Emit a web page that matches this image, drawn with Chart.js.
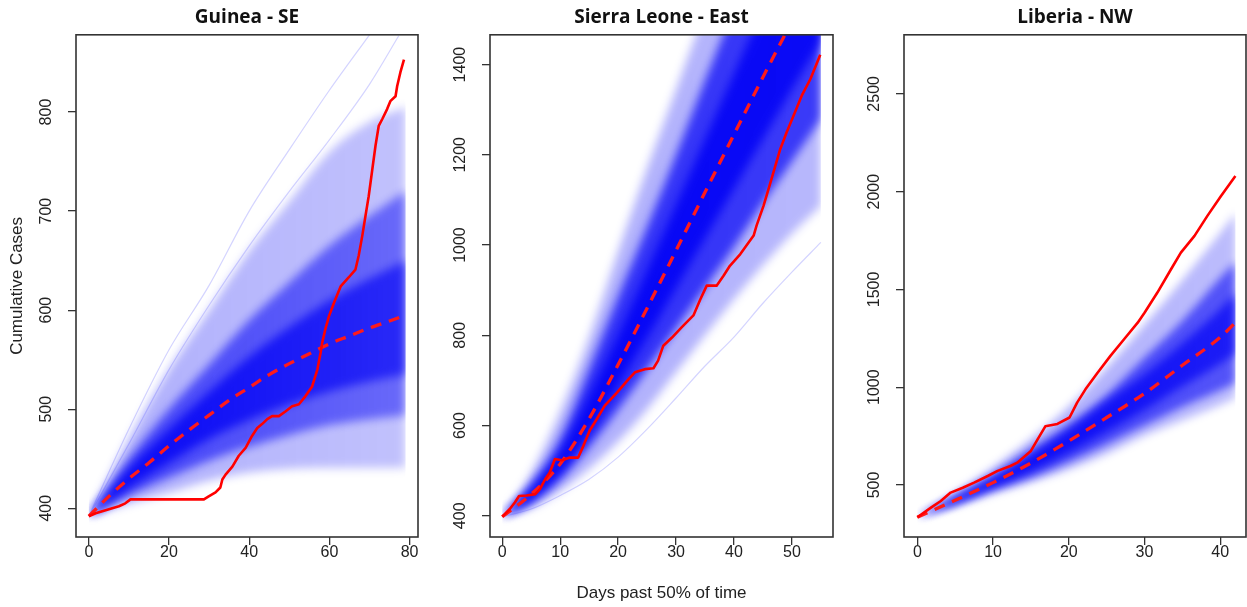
<!DOCTYPE html>
<html><head><meta charset="utf-8">
<script src="https://cdn.jsdelivr.net/npm/chart.js@4.4.1/dist/chart.umd.min.js"></script>
<style>
html,body{margin:0;padding:0;background:#fff;overflow:hidden;width:1247px;height:607px;}
canvas{position:absolute;top:0;}
</style></head><body>
<canvas id="c1" width="420" height="607" style="left:0px;width:420px;height:607px"></canvas>
<canvas id="c2" width="420" height="607" style="left:420px;width:420px;height:607px"></canvas>
<canvas id="c3" width="407" height="607" style="left:840px;width:407px;height:607px"></canvas>
<script>
// ---------------- Guinea - SE ----------------
const guineaXTicks = [0, 20, 40, 60, 80];
const guineaYTicks = [400, 500, 600, 700, 800];
const guineaBandDays = [0, 10, 20, 30, 40, 50, 60, 70, 79];
const guineaMin = [392, 405, 416, 428, 436, 440, 441, 441, 441];
const guineaQ10 = [392, 413, 431, 448, 462, 474, 484, 490, 494];
const guineaQ25 = [392, 421, 446, 470, 489, 505, 518, 528, 535];
const guineaQ75 = [392, 440, 480, 518, 553, 583, 610, 632, 650];
const guineaQ90 = [392, 450, 500, 545, 590, 628, 665, 695, 720];
const guineaMax = [392, 470, 540, 600, 660, 710, 760, 790, 805];
const guineaMedianDays = [0, 5, 10, 15, 20, 25, 30, 35, 40, 45, 50, 55, 60, 65, 70, 75, 79];
const guineaMedian = [392, 412, 430, 446, 463, 479, 494, 509, 522, 535, 546, 556, 566, 574, 582, 589, 595];
const guineaOutADays = [0, 10, 20, 30, 40, 50, 60, 70];
const guineaOutA = [392, 480, 560, 625, 700, 762, 822, 878];
const guineaOutBDays = [0, 10, 20, 30, 40, 50, 60, 70, 77.3];
const guineaOutB = [392, 465, 540, 605, 665, 720, 772, 828, 877];
const guineaObsDays = [0, 1.7, 5, 7.5, 9.1, 10.4, 28.7, 29.9, 31.6, 32.8, 33.3, 34.1, 35.8, 37.4, 39.1, 40.7, 42, 43.2, 44.5, 45.7, 47.4, 49.1, 50.7, 52.4, 54, 55.7, 57, 57.8, 58.2, 59, 59.9, 61.1, 62.8, 64.8, 66.5, 67.3, 68.2, 69, 69.8, 70.7, 71.5, 72.3, 73.2, 74.4, 75.2, 76.5, 76.9, 77.7, 78.6];
const guineaObsCases = [392, 395, 399, 402, 405, 409, 409, 412, 416, 421, 429, 434, 442, 453, 461, 473, 481, 485, 490, 493, 493, 498, 503, 505, 513, 523, 540, 557, 567, 581, 594, 607, 624, 633, 641, 655, 675, 695, 715, 742, 766, 786, 793, 803, 811, 816, 826, 840, 853];

// ---------------- Sierra Leone - East ----------------
const slXTicks = [0, 10, 20, 30, 40, 50];
const slYTicks = [400, 600, 800, 1000, 1200, 1400];
const slBandDays = [0, 5, 10, 15, 20, 25, 30, 35, 40, 45, 50, 55];
const slMin = [398, 418, 455, 505, 565, 636, 718, 800, 880, 955, 1025, 1087];
const slQ10 = [398, 428, 480, 553, 636, 725, 815, 905, 995, 1093, 1185, 1280];
const slQ25 = [398, 438, 498, 585, 690, 795, 905, 1015, 1125, 1235, 1345, 1450];
const slQ75 = [398, 458, 540, 665, 800, 945, 1090, 1235, 1380, 1525, 1670, 1810];
const slQ90 = [398, 470, 570, 725, 885, 1040, 1200, 1365, 1525, 1690, 1850, 2010];
const slMax = [398, 495, 630, 795, 985, 1170, 1345, 1520, 1690, 1860, 2030, 2200];
const slMedianDays = [0, 5, 10, 15, 20, 25, 30, 35, 40, 45, 50, 55];
const slMedian = [398, 448, 515, 615, 735, 860, 988, 1117, 1245, 1372, 1495, 1612];
const slOutDays = [0, 5, 10, 15, 20, 25, 30, 35, 40, 45, 50, 55];
const slOut = [398, 415, 445, 481, 530, 592, 661, 732, 796, 871, 940, 1006];
const slObsDays = [0, 1.3, 2.2, 2.9, 4.2, 5.7, 6.5, 7.4, 8.2, 9.1, 10.3, 11.7, 13.1, 14, 15.1, 16.3, 17.7, 19.8, 21.8, 22.9, 24.6, 26.1, 26.9, 27.8, 29.3, 31, 33, 34.2, 35.3, 37, 38.2, 39.3, 41.1, 43.4, 43.9, 45.1, 46.5, 48, 49.1, 50.3, 51.7, 53.2, 54.9];
const slObsCases = [398, 415, 430, 444, 445, 448, 459, 481, 496, 526, 523, 529, 529, 555, 589, 614, 644, 673, 703, 718, 725, 727, 744, 777, 795, 818, 844, 880, 910, 910, 932, 954, 980, 1021, 1043, 1087, 1147, 1213, 1250, 1287, 1331, 1368, 1422];

// ---------------- Liberia - NW ----------------
const lbXTicks = [0, 10, 20, 30, 40];
const lbYTicks = [500, 1000, 1500, 2000, 2500];
const lbBandDays = [0, 5, 10, 15, 20, 25, 30, 35, 40, 42];
const lbMin = [335, 392, 455, 515, 580, 660, 753, 831, 909, 945];
const lbQ10 = [335, 400, 475, 540, 620, 710, 805, 900, 985, 1020];
const lbQ25 = [335, 410, 492, 575, 670, 775, 885, 1005, 1120, 1175];
const lbQ75 = [335, 434, 530, 650, 780, 925, 1065, 1225, 1400, 1480];
const lbQ90 = [335, 440, 550, 680, 810, 960, 1150, 1340, 1560, 1640];
const lbMax = [335, 460, 590, 735, 900, 1100, 1320, 1550, 1790, 1890];
const lbMedianDays = [0, 5, 10, 15, 20, 25, 30, 35, 40, 42];
const lbMedian = [335, 422, 512, 612, 725, 845, 968, 1112, 1255, 1330];
const lbObsDays = [0, 1.8, 3.1, 4.4, 6, 7.5, 9.3, 10.6, 12.3, 13.2, 15, 15.9, 16.9, 18.5, 20.1, 21.1, 22.2, 23.8, 25.5, 27.3, 29.1, 30, 31.7, 33.5, 34.8, 36.6, 38.3, 40.1, 42];
const lbObsCases = [335, 384, 418, 461, 486, 512, 546, 572, 597, 614, 674, 734, 800, 812, 845, 921, 989, 1074, 1160, 1245, 1330, 1381, 1484, 1603, 1688, 1774, 1876, 1978, 2080];

const FAMILY = "'Liberation Sans', Arial, sans-serif";
Chart.defaults.font.family = FAMILY;

function pts(xs, ys) { return xs.map((x, i) => ({ x: x, y: ys[i] })); }
function bandFill(a0, a1) {
  return function (ctx) {
    const ch = ctx.chart, a = ch.chartArea;
    if (!a) return 'rgba(0,0,245,' + a0 + ')';
    const g = ch.ctx.createLinearGradient(a.left, 0, a.right, 0);
    g.addColorStop(0, 'rgba(0,0,245,' + a0 + ')');
    g.addColorStop(1, 'rgba(0,0,245,' + a1 + ')');
    return g;
  };
}

const rPlugin = {
  id: 'rstyle',
  beforeDatasetsDraw(chart, args, opts) {
    chart.ctx.filter = 'blur(' + (opts.blur || 0) + 'px)';
  },
  afterDatasetDraw(chart, args, opts) {
    if (args.index === opts.lastBand) chart.ctx.filter = 'none';
  },
  afterDatasetsDraw(chart, args, opts) {
    const a = chart.chartArea, c = chart.ctx;
    c.filter = 'none';
    c.save();
    c.strokeStyle = '#333';
    c.lineWidth = 1.6;
    c.strokeRect(a.left, a.top, a.right - a.left, a.bottom - a.top);
    c.restore();
  },
  afterDraw(chart, args, opts) {
    const a = chart.chartArea, c = chart.ctx, ys = chart.scales.y;
    c.save();
    c.fillStyle = '#222';
    c.font = '16px ' + FAMILY;
    c.textAlign = 'center';
    c.textBaseline = 'middle';
    (opts.yLabels || []).forEach(v => {
      const py = ys.getPixelForValue(v);
      c.save();
      c.translate(a.left - 29, py);
      c.rotate(-Math.PI / 2);
      c.fillText(String(v), 0, 0);
      c.restore();
    });
    c.restore();
  }
};

function buildPanel(id, p) {
  const ds = [];
  const base = { pointRadius: 0, pointHoverRadius: 0, borderWidth: 0, fill: false, clip: 0, tension: 0 };
  p.bands.forEach((b, k) => {
    const lowIdx = ds.length;
    ds.push(Object.assign({}, base, {
      data: pts(p.bandDays, b.lo), borderColor: 'rgba(0,0,0,0)',
      cubicInterpolationMode: 'monotone', order: 40 - k * 2
    }));
    ds.push(Object.assign({}, base, {
      data: pts(p.bandDays, b.hi), borderColor: 'rgba(0,0,0,0)',
      cubicInterpolationMode: 'monotone', order: 39 - k * 2,
      fill: { target: lowIdx }, backgroundColor: bandFill(b.a0, b.a1)
    }));
  });
  const lastBand = ds.length - 1;
  (p.outliers || []).forEach(o => {
    ds.push(Object.assign({}, base, {
      data: pts(o.days, o.vals), borderColor: 'rgba(60,60,255,0.22)', borderWidth: 1.2,
      cubicInterpolationMode: 'monotone', order: 10
    }));
  });
  ds.push(Object.assign({}, base, {
    data: pts(p.medDays, p.med), borderColor: '#ff1a1a', borderWidth: 3.3,
    borderDash: [11, 8], cubicInterpolationMode: 'monotone', order: 2
  }));
  ds.push(Object.assign({}, base, {
    data: pts(p.obsDays, p.obs), borderColor: '#ff0000', borderWidth: 2.6, order: 1,
    borderJoinStyle: 'round'
  }));

  const gridOpts = { display: true, drawOnChartArea: false, drawTicks: true, tickLength: 8, color: '#333', lineWidth: 1.3 };
  return new Chart(document.getElementById(id), {
    type: 'line',
    data: { datasets: ds },
    options: {
      responsive: false, animation: false, devicePixelRatio: 1,
      layout: { padding: { left: 0, right: p.padRight, top: 0, bottom: 0 } },
      plugins: {
        legend: { display: false }, tooltip: { enabled: false },
        title: { display: true, text: p.title, fullSize: false, color: '#111',
          font: { family: "'Open Sans', sans-serif", size: 19, weight: 'bold', lineHeight: 1.2 },
          padding: { top: 6, bottom: 6 } },
        rstyle: { yLabels: p.yTicks, blur: p.blur, lastBand: lastBand }
      },
      scales: {
        x: {
          type: 'linear', min: p.xMin, max: p.xMax,
          afterBuildTicks: s => { s.ticks = p.xTicks.map(v => ({ value: v })); },
          afterFit: s => { s.height = 70; },
          grid: gridOpts, border: { display: false },
          ticks: { color: '#222', font: { size: 16, lineHeight: 1 }, padding: 0, maxRotation: 0, minRotation: 0, autoSkip: false },
          title: p.xTitle ? { display: true, text: p.xTitle, color: '#222', font: { size: 17, lineHeight: 1.2 }, padding: { top: 0, bottom: 3 } } : { display: false }
        },
        y: {
          type: 'linear', min: p.yMin, max: p.yMax,
          afterBuildTicks: s => { s.ticks = p.yTicks.map(v => ({ value: v })); },
          afterFit: s => { s.width = p.yWidth; },
          grid: gridOpts, border: { display: false },
          ticks: { display: false },
          title: p.yTitle ? { display: true, text: p.yTitle, color: '#222', font: { size: 17, lineHeight: 1.2 }, padding: { top: 7, bottom: 0 } } : { display: false }
        }
      }
    },
    plugins: [rPlugin]
  });
}

buildPanel('c1', {
  title: 'Guinea - SE', yTitle: 'Cumulative Cases',
  xMin: -3.2, xMax: 82.1, yMin: 371, yMax: 878, yWidth: 76, padRight: 2, blur: 5,
  xTicks: guineaXTicks, yTicks: guineaYTicks,
  bandDays: guineaBandDays,
  bands: [
    { lo: guineaMin, hi: guineaMax, a0: 0.32, a1: 0.24 },
    { lo: guineaQ10, hi: guineaQ90, a0: 0.65, a1: 0.45 },
    { lo: guineaQ25, hi: guineaQ75, a0: 0.85, a1: 0.6 }
  ],
  outliers: [{ days: guineaOutADays, vals: guineaOutA }, { days: guineaOutBDays, vals: guineaOutB }],
  medDays: guineaMedianDays, med: guineaMedian,
  obsDays: guineaObsDays, obs: guineaObsCases
});

buildPanel('c2', {
  title: 'Sierra Leone - East', xTitle: 'Days past 50% of time',
  xMin: -2.12, xMax: 57.1, yMin: 353, yMax: 1466, yWidth: 70, padRight: 7, blur: 5,
  xTicks: slXTicks, yTicks: slYTicks,
  bandDays: slBandDays,
  bands: [
    { lo: slMin, hi: slMax, a0: 0.32, a1: 0.28 },
    { lo: slQ10, hi: slQ90, a0: 0.75, a1: 0.68 },
    { lo: slQ25, hi: slQ75, a0: 0.88, a1: 0.82 }
  ],
  outliers: [{ days: slOutDays, vals: slOut }],
  medDays: slMedianDays, med: slMedian,
  obsDays: slObsDays, obs: slObsCases
});

buildPanel('c3', {
  title: 'Liberia - NW',
  xMin: -1.76, xMax: 43.4, yMin: 234, yMax: 2802, yWidth: 64, padRight: 1, blur: 4,
  xTicks: lbXTicks, yTicks: lbYTicks,
  bandDays: lbBandDays,
  bands: [
    { lo: lbMin, hi: lbMax, a0: 0.35, a1: 0.26 },
    { lo: lbQ10, hi: lbQ90, a0: 0.72, a1: 0.55 },
    { lo: lbQ25, hi: lbQ75, a0: 0.85, a1: 0.65 }
  ],
  outliers: [],
  medDays: lbMedianDays, med: lbMedian,
  obsDays: lbObsDays, obs: lbObsCases
});
</script>
</body></html>
